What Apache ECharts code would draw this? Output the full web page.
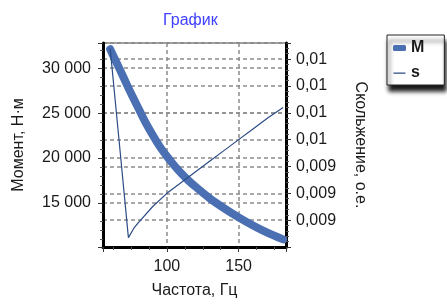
<!DOCTYPE html>
<html>
<head>
<meta charset="utf-8">
<script src="https://cdn.jsdelivr.net/npm/echarts@6/dist/echarts.min.js"></script>
<style>
  html, body { margin: 0; padding: 0; background: #fff; }
  #chart { width: 447px; height: 304px; }
</style>
</head>
<body>
<div id="chart"></div>
<script>
// частота, Гц и момент, Н·м
var freq = [60.5, 65, 70, 75, 80, 85, 90, 95, 100, 105, 110, 115, 120, 130, 140, 150, 160, 170, 181];
var moment = [32100, 30600, 28900, 27200, 25600, 24000, 22600, 21300, 20200, 19200, 18300, 17500, 16800, 15500, 14400, 13400, 12500, 11700, 10950];

// скольжение, о.е.
var sFreq = [60.5, 67, 73.2, 77, 80, 90, 100, 110, 120, 130, 140, 150, 160, 170, 181];
var slip = [0.00984, 0.00948, 0.009135, 0.00917, 0.00919, 0.00925, 0.0093, 0.00934, 0.00938, 0.00942, 0.00946, 0.0095, 0.00954, 0.00958, 0.00962];

var seriesNames = ["M", "s"];

var myChart = echarts.init(document.getElementById("chart"));
var font = "'Liberation Sans', Arial, sans-serif";
var textColor = "#1a1a1a";
var gridColor = "#8c8c8c";
var mColor = "#4a6fb3";
var sColor = "#2c4c85";

var mData = freq.map(function (f, i) { return [f, moment[i]]; });
var sData = sFreq.map(function (f, i) { return [f, slip[i]]; });

function thousands(v) {
  return String(v).replace(/\B(?=(\d{3})+(?!\d))/g, " ");
}

var option = {
  backgroundColor: "#fff",
  animation: false,
  title: {
    text: "График",
    left: 158,
    top: 8,
    textStyle: { fontFamily: font, fontSize: 16, fontWeight: "normal", color: "#4040ff" },
  },
  legend: {
    orient: "vertical",
    left: 387,
    top: 35,
    padding: [5, 20, 4, 6],
    itemGap: 9,
    itemWidth: 13,
    itemHeight: 6,
    backgroundColor: "#fff",
    borderColor: "#222",
    borderWidth: 1,
    borderRadius: 0,
    shadowColor: "rgba(0,0,0,0.9)",
    shadowBlur: 4,
    shadowOffsetX: 2,
    shadowOffsetY: 6,
    textStyle: { fontFamily: font, fontSize: 16, fontWeight: "bold", color: textColor },
    data: [
      { name: seriesNames[0], icon: "roundRect", itemStyle: { color: mColor } },
      {
        name: seriesNames[1],
        icon: "path://M0,0h0.01v0.01h-0.01z M0,2.4h12v1.3h-12z M0,6h0.01v0.01h-0.01z",
        itemStyle: { color: sColor },
      },
    ],
  },
  grid: {
    left: 103,
    right: 161,
    top: 43,
    bottom: 57,
    show: true,
    borderColor: "#444",
    borderWidth: 1,
  },
  xAxis: {
    type: "value",
    name: "Частота, Гц",
    nameLocation: "middle",
    nameGap: 36,
    nameTextStyle: { fontFamily: font, fontSize: 16, color: textColor },
    min: 55.5,
    max: 183,
    splitNumber: 3,
    axisLine: { show: true, lineStyle: { color: "#000", width: 3 } },
    axisTick: { show: true, length: 5, lineStyle: { color: "#333" } },
    minorTick: { show: true, splitNumber: 4, length: 3, lineStyle: { color: "#555" } },
    axisLabel: {
      fontFamily: font, fontSize: 16, color: textColor, margin: 12,
      showMinLabel: false, showMaxLabel: false,
    },
    splitLine: { show: true, lineStyle: { color: gridColor, type: [4, 3], width: 1.5 } },
  },
  yAxis: [
    {
      type: "value",
      name: "Момент, Н·м",
      nameLocation: "middle",
      nameGap: 76,
      nameTextStyle: { fontFamily: font, fontSize: 16, color: textColor },
      min: 10100,
      max: 32800,
      splitNumber: 4,
      axisLine: { show: true, lineStyle: { color: "#000", width: 3 } },
      axisTick: { show: true, length: 5, lineStyle: { color: "#333" } },
      minorTick: { show: true, splitNumber: 5, length: 3, lineStyle: { color: "#555" } },
      axisLabel: {
        fontFamily: font, fontSize: 16, color: textColor, margin: 12,
        showMinLabel: false, showMaxLabel: false,
        formatter: thousands,
      },
      splitLine: { show: true, lineStyle: { color: gridColor, type: [4, 3], width: 1.5 } },
    },
    {
      type: "value",
      position: "right",
      name: "Скольжение, о.е.",
      nameLocation: "middle",
      nameRotate: -90,
      nameGap: 66,
      nameTextStyle: { fontFamily: font, fontSize: 16, color: textColor },
      min: 0.0091,
      max: 0.00986,
      interval: 0.0001,
      axisLine: { show: true, lineStyle: { color: "#000", width: 3 } },
      axisTick: { show: true, length: 5, lineStyle: { color: "#333" } },
      minorTick: { show: true, splitNumber: 5, length: 3, lineStyle: { color: "#555" } },
      axisLabel: {
        fontFamily: font, fontSize: 16, color: textColor, margin: 10,
        showMinLabel: false, showMaxLabel: false,
        formatter: function (v) {
          var r = Math.round(v * 1000 + 1e-6) / 1000;
          return String(r).replace(".", ",");
        },
      },
      splitLine: { show: true, lineStyle: { color: gridColor, type: [4, 3], width: 1.5 } },
    },
  ],
  series: [
    {
      name: seriesNames[0],
      type: "line",
      yAxisIndex: 0,
      symbol: "none",
      smooth: 0.3,
      lineStyle: { color: mColor, width: 8, cap: "round", join: "round" },
      itemStyle: { color: mColor },
      data: mData,
    },
    {
      name: seriesNames[1],
      type: "line",
      yAxisIndex: 1,
      symbol: "none",
      lineStyle: { color: sColor, width: 1.2 },
      itemStyle: { color: sColor },
      data: sData,
    },
  ],
};

myChart.setOption(option);
window.addEventListener("resize", function () {
  myChart.resize();
});
</script>
</body>
</html>
